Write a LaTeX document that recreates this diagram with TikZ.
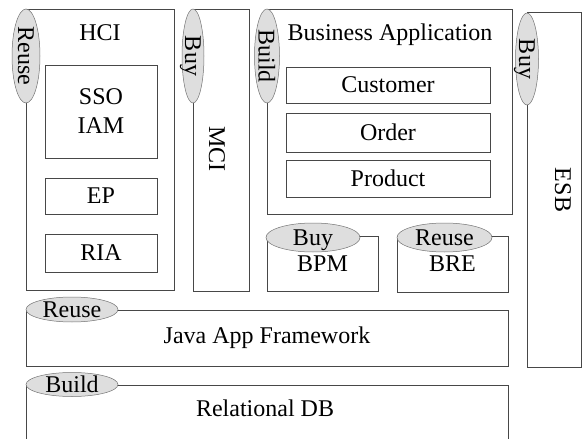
\documentclass[tikz,border=0pt]{standalone}
\usepackage{fontspec}
\setmainfont{Liberation Serif}
\usetikzlibrary{shapes.geometric}
\begin{document}
\begin{tikzpicture}[x=1pt,y=-1pt,
  font=\fontsize{24}{29}\selectfont,
  frame/.style={draw=black!72, line width=0.6pt, rectangle, inner sep=0pt, align=center},
  tag/.style={draw=black!55, line width=0.5pt, ellipse, fill=black!13, inner sep=0pt},
  tagtext/.style={inner sep=0pt, text depth=0pt},
  caption/.style={inner sep=0pt}
]
\useasboundingbox (0,0) rectangle (582,439);
\clip (0,0) rectangle (582,439);

% --- HCI column ---
\node[frame, minimum width=148pt, minimum height=281pt] (hci) at (100,149.5) {};
\node[caption] (hciTitle) at (100,33) {HCI};
\node[frame, minimum width=112pt, minimum height=93pt] (sso) at (101,111.5) {SSO\\IAM};
\node[frame, minimum width=112pt, minimum height=36pt] (ep) at (101,196) {EP};
\node[frame, minimum width=112pt, minimum height=38pt] (ria) at (101,253) {RIA};
\node[tag, minimum width=94pt, minimum height=28pt, rotate=-90] (hciTag) at (26,56) {};
\node[tagtext, rotate=-90] at (hciTag.center) {Reuse};

% --- MCI column ---
\node[frame, minimum width=56pt, minimum height=282pt] (mci) at (221,150) {};
\node[caption, rotate=-90] (mciTitle) at (217,149) {MCI};
\node[tag, minimum width=94pt, minimum height=22pt, rotate=-90] (mciTag) at (193,56) {};
\node[tagtext, rotate=-90] at (mciTag.center) {Buy};

% --- Business application ---
\node[frame, minimum width=245pt, minimum height=205pt] (biz) at (389.5,111.5) {};
\node[caption] (bizTitle) at (390,35) {Business Application};
\node[frame, minimum width=204pt, minimum height=36pt] (customer) at (388,85) {Customer};
\node[frame, minimum width=204pt, minimum height=39pt] (order) at (388,132.5) {Order};
\node[frame, minimum width=204pt, minimum height=37pt] (product) at (388,178.5) {Product};
\node[tag, minimum width=94pt, minimum height=25pt, rotate=-90] (bizTag) at (267,56) {};
\node[tagtext, rotate=-90] at (bizTag.center) {Build};

% --- ESB ---
\node[frame, minimum width=54pt, minimum height=355pt] (esb) at (554,189.5) {};
\node[caption, rotate=-90] (esbTitle) at (563,190) {ESB};
\node[tag, minimum width=92pt, minimum height=23pt, rotate=-90] (esbTag) at (527,59) {};
\node[tagtext, rotate=-90] at (esbTag.center) {Buy};

% --- BPM and BRE ---
\node[frame, minimum width=111pt, minimum height=55pt] (bpm) at (322.5,263.5) {BPM};
\node[tag, minimum width=94pt, minimum height=29pt] (bpmTag) at (313,237.5) {};
\node[tagtext] at (bpmTag.center) {Buy};
\node[frame, minimum width=111pt, minimum height=56pt] (bre) at (452.5,264) {BRE};
\node[tag, minimum width=95pt, minimum height=29pt] (breTag) at (444.5,237.5) {};
\node[tagtext] at (breTag.center) {Reuse};

% --- Java application framework ---
\node[frame, minimum width=482pt, minimum height=56pt] (java) at (267,338) {Java App Framework};
\node[tag, minimum width=92pt, minimum height=25pt] (javaTag) at (72,309.5) {};
\node[tagtext] at (javaTag.center) {Reuse};

% --- Relational DB (runs past the lower edge) ---
\node[frame, minimum width=482pt, minimum height=80pt] (db) at (267,425) {};
\node[caption] (dbTitle) at (265,408) {Relational DB};
\node[tag, minimum width=92pt, minimum height=24pt] (dbTag) at (72,384.5) {};
\node[tagtext] at (dbTag.center) {Build};
\end{tikzpicture}
\end{document}
